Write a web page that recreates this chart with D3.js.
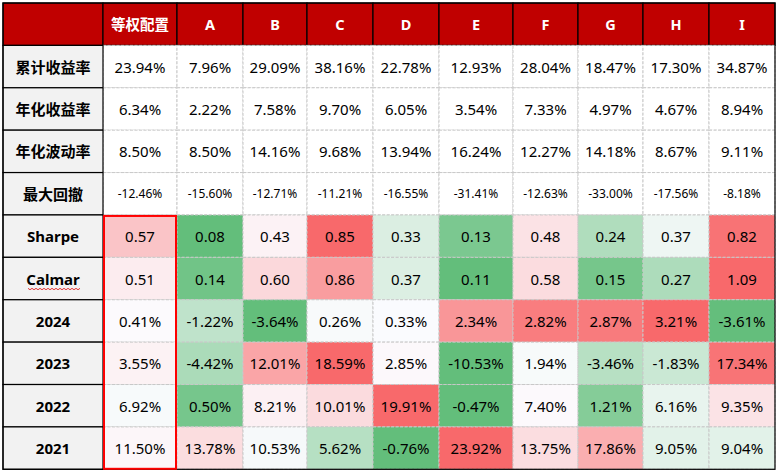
<!DOCTYPE html>
<html><head><meta charset="utf-8">
<script src="https://cdn.jsdelivr.net/npm/d3@7"></script>
<style>body{margin:0;background:#fff}svg{display:block}</style>
</head><body>
<svg id="c" width="778" height="473"></svg>
<script>
const categories = ["等权配置","A","B","C","D","E","F","G","H","I"];
const rowLabels = ["累计收益率","年化收益率","年化波动率","最大回撤","Sharpe","Calmar","2024","2023","2022","2021"];
const cumReturn = [23.94,7.96,29.09,38.16,22.78,12.93,28.04,18.47,17.30,34.87];
const annReturn = [6.34,2.22,7.58,9.70,6.05,3.54,7.33,4.97,4.67,8.94];
const annVol    = [8.50,8.50,14.16,9.68,13.94,16.24,12.27,14.18,8.67,9.11];
const maxDD     = [-12.46,-15.60,-12.71,-11.21,-16.55,-31.41,-12.63,-33.00,-17.56,-8.18];
const sharpe    = [0.57,0.08,0.43,0.85,0.33,0.13,0.48,0.24,0.37,0.82];
const calmar    = [0.51,0.14,0.60,0.86,0.37,0.11,0.58,0.15,0.27,1.09];
const y2024     = [0.41,-1.22,-3.64,0.26,0.33,2.34,2.82,2.87,3.21,-3.61];
const y2023     = [3.55,-4.42,12.01,18.59,2.85,-10.53,1.94,-3.46,-1.83,17.34];
const y2022     = [6.92,0.50,8.21,10.01,19.91,-0.47,7.40,1.21,6.16,9.35];
const y2021     = [11.50,13.78,10.53,5.62,-0.76,23.92,13.75,17.86,9.05,9.04];

const rows = [
  {label:rowLabels[0], vals:cumReturn, pct:true, heat:false},
  {label:rowLabels[1], vals:annReturn, pct:true, heat:false},
  {label:rowLabels[2], vals:annVol, pct:true, heat:false},
  {label:rowLabels[3], vals:maxDD, pct:true, heat:false, small:true},
  {label:rowLabels[4], vals:sharpe, pct:false, heat:true},
  {label:rowLabels[5], vals:calmar, pct:false, heat:true},
  {label:rowLabels[6], vals:y2024, pct:true, heat:true},
  {label:rowLabels[7], vals:y2023, pct:true, heat:true},
  {label:rowLabels[8], vals:y2022, pct:true, heat:true},
  {label:rowLabels[9], vals:y2021, pct:true, heat:true}
];

// layout (not data)
const colWidths = [100,74,66,64,66,66,74,65,65,66,66];
const tLeft = 3, tTop = 3, tBottom = 469.3;
const colKeys = ["__label"].concat(categories);
const edges = [tLeft]; colWidths.forEach(w => edges.push(edges[edges.length-1] + w));
const xs = d3.scaleOrdinal().domain(colKeys).range(edges.slice(0,-1));
const ws = d3.scaleOrdinal().domain(colKeys).range(colWidths);
const y = d3.scaleBand().domain(["__header"].concat(rowLabels)).range([tTop, tBottom]);
const tRight = edges[edges.length-1];

const svg = d3.select("#c");
const FONT = "'Noto Sans','Noto Sans CJK SC',sans-serif";
const fmt2 = v => v.toFixed(2);

// header
const hdr = svg.append("g");
hdr.selectAll("rect").data(colKeys).join("rect")
  .attr("x", d => xs(d)).attr("y", y("__header"))
  .attr("width", d => ws(d)).attr("height", y.bandwidth())
  .attr("fill", "#C00000").attr("stroke", "#000").attr("stroke-width", 1.2);
hdr.selectAll("text").data(categories).join("text")
  .attr("x", d => xs(d) + ws(d)/2).attr("y", y("__header") + y.bandwidth()/2)
  .attr("text-anchor","middle").attr("dominant-baseline","central")
  .attr("font-family", FONT).attr("font-weight","bold").attr("font-size", 14.5)
  .attr("fill","#fff").text(d => d);

// data cells
const rowG = svg.selectAll("g.row").data(rows).join("g").attr("class","row");
rowG.each(function(r){
  const g = d3.select(this);
  const ry = y(r.label), h = y.bandwidth();
  let color = () => "#FFFFFF";
  if (r.heat) {
    const ext = d3.extent(r.vals), med = d3.median(r.vals);
    const sc = d3.scaleLinear().domain([ext[0], med, ext[1]]).range(["#63BE7B","#FCFCFF","#F8696B"]).interpolate(d3.interpolateRgb);
    color = v => sc(v);
  }
  const cells = r.vals.map((v,i) => ({v, c:categories[i]}));
  g.selectAll("rect.cell").data(cells).join("rect").attr("class","cell")
    .attr("x", d => xs(d.c)).attr("y", ry).attr("width", d => ws(d.c)).attr("height", h)
    .attr("fill", d => color(d.v))
    .attr("stroke", "#C8C8C8").attr("stroke-width", 1).attr("stroke-dasharray","3,1.5");
  g.selectAll("text.val").data(cells).join("text").attr("class","val")
    .attr("x", d => xs(d.c) + ws(d.c)/2).attr("y", ry + h/2)
    .attr("text-anchor","middle").attr("dominant-baseline","central")
    .attr("font-family", FONT).attr("font-size", r.small ? 12 : 15).attr("fill","#000")
    .text(d => fmt2(d.v) + (r.pct ? "%" : ""));
  // label cell
  g.append("rect").attr("x", xs("__label")).attr("y", ry).attr("width", ws("__label")).attr("height", h)
    .attr("fill","#F2F2F2").attr("stroke","#000").attr("stroke-width",1.2);
  g.append("text").attr("x", xs("__label") + ws("__label")/2).attr("y", ry + h/2)
    .attr("text-anchor","middle").attr("dominant-baseline","central")
    .attr("font-family", FONT).attr("font-weight","bold").attr("font-size", 15).attr("fill","#000")
    .text(r.label);
});

// spell-check squiggle under Calmar
(function(){
  const cy = y("Calmar") + y.bandwidth()/2 + 10;
  const x0 = 28, x1 = 80;
  const pts = d3.range(x0, x1 + 0.1, 2).map((x,i) => [x, cy + (i%2 ? 1.2 : -0.2)]);
  svg.append("path").attr("d", d3.line()(pts)).attr("fill","none").attr("stroke","#E02020").attr("stroke-width",0.9);
})();

// outer border
svg.append("rect").attr("x", tLeft).attr("y", tTop).attr("width", tRight-tLeft).attr("height", tBottom-tTop)
  .attr("fill","none").attr("stroke","#000").attr("stroke-width",1.2);

// highlight box
svg.append("rect")
  .attr("x", xs("等权配置") + 1).attr("y", y("Sharpe") + 1)
  .attr("width", ws("等权配置") - 2).attr("height", tBottom - y("Sharpe") - 1.5)
  .attr("fill","none").attr("stroke","#FF0000").attr("stroke-width",2);
</script>
</body></html>
